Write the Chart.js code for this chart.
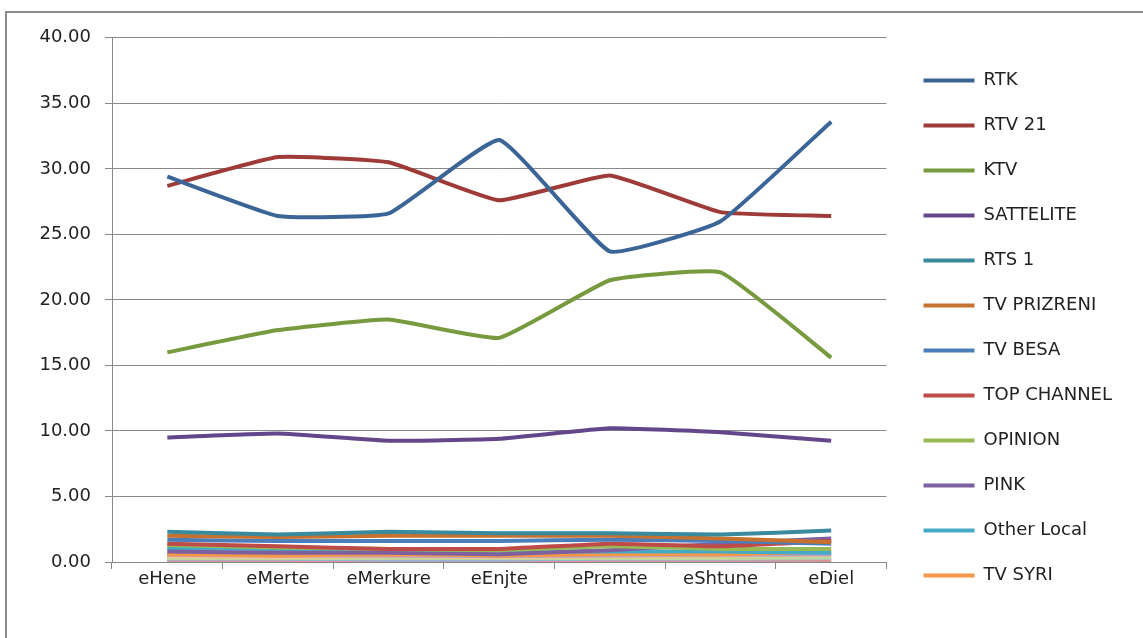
<!DOCTYPE html>
<html>
<head>
<meta charset="utf-8">
<script src="https://cdn.jsdelivr.net/npm/chart.js"></script>
<style>
  html, body { margin: 0; padding: 0; background: #fff; }
  #frame { position: absolute; left: 5px; top: 11px; width: 1140px; height: 630px; border: 2px solid #8c8c8c; border-right: none; border-bottom: none; background: #fff; }
  #wrap { position: absolute; left: 0; top: 0; width: 1136px; height: 627px; }
</style>
</head>
<body>
<div id="frame"><div id="wrap"><canvas id="tvChart"></canvas></div></div>
<script>
// Days of the week (Albanian) and daily audience share per channel
const days = ['eHene', 'eMerte', 'eMerkure', 'eEnjte', 'ePremte', 'eShtune', 'eDiel'];
const yTicks = [0, 5, 10, 15, 20, 25, 30, 35, 40];

const rtk        = [29.4, 26.4, 26.6, 32.2, 23.7, 26.0, 33.6];
const rtv21      = [28.7, 30.9, 30.5, 27.6, 29.5, 26.7, 26.4];
const ktv        = [16.0, 17.7, 18.5, 17.1, 21.5, 22.1, 15.6];
const sattelite  = [9.5, 9.8, 9.25, 9.4, 10.2, 9.9, 9.25];
const rts1       = [2.3, 2.1, 2.3, 2.2, 2.2, 2.1, 2.4];
const tvPrizreni = [2.0, 1.9, 2.0, 2.0, 2.0, 1.8, 1.5];
const tvBesa     = [1.7, 1.6, 1.6, 1.6, 1.7, 1.6, 1.4];
const topChannel = [1.4, 1.2, 1.0, 1.0, 1.4, 1.2, 1.6];
const opinion    = [1.3, 1.1, 1.0, 0.9, 1.2, 1.0, 1.0];
const pink       = [0.8, 0.7, 0.7, 0.6, 0.9, 1.4, 1.8];
const otherLocal = [1.0, 1.0, 0.9, 0.8, 0.8, 0.8, 0.7];
const tvSyri     = [0.6, 0.5, 0.6, 0.5, 0.6, 0.6, 0.8];
// series below are not shown in the (cut-off) legend
const series13   = [0.55, 0.5, 0.5, 0.45, 0.5, 0.55, 0.6];
const series14   = [0.45, 0.4, 0.45, 0.4, 0.45, 0.5, 0.55];
const series15   = [0.3, 0.3, 0.3, 0.3, 0.3, 0.3, 0.35];
const series16   = [0.25, 0.25, 0.2, 0.2, 0.25, 0.25, 0.3];
const series17   = [0.1, 0.1, 0.1, 0.1, 0.1, 0.1, 0.1];
const series18   = [0.05, 0.05, 0.05, 0.05, 0.05, 0.05, 0.05];

const LEGEND_COUNT = 12;

function line(label, data, color){
    return { label: label, data: data, borderColor: color, backgroundColor: color,
             borderWidth: 4, pointRadius: 0, tension: 0.12, fill: false };
}

const datasets = [
    line('RTK', rtk, '#3c6597'),
    line('RTV 21', rtv21, '#9e3a38'),
    line('KTV', ktv, '#779a3e'),
    line('SATTELITE', sattelite, '#63478a'),
    line('RTS 1', rts1, '#3a8a9e'),
    line('TV PRIZRENI', tvPrizreni, '#c8702e'),
    line('TV BESA', tvBesa, '#4a7ebb'),
    line('TOP CHANNEL', topChannel, '#be4b48'),
    line('OPINION', opinion, '#98b954'),
    line('PINK', pink, '#7d60a0'),
    line('Other Local', otherLocal, '#46aac5'),
    line('TV SYRI', tvSyri, '#f79646'),
    line('Series 13', series13, '#b3a2c7'),
    line('Series 14', series14, '#fac090'),
    line('Series 15', series15, '#c3d69b'),
    line('Series 16', series16, '#95b3d7'),
    line('Series 17', series17, '#d99694'),
    line('Series 18', series18, '#93cddd')
];
// draw first series on top, like the original
datasets.forEach((d, i) => { d.order = i; });

const font = { family: '"DejaVu Sans", sans-serif', size: 18 };

new Chart(document.getElementById('tvChart'), {
    type: 'line',
    data: { labels: days, datasets: datasets },
    options: {
        responsive: true,
        maintainAspectRatio: false,
        animation: false,
        layout: { padding: { top: 17, left: 0, right: 21, bottom: 14 } },
        plugins: {
            tooltip: { enabled: false },
            legend: {
                position: 'right',
                maxWidth: 300,
                labels: {
                    font: font,
                    color: '#222',
                    boxWidth: 51,
                    boxHeight: 4,
                    padding: 27,
                    generateLabels: (chart) => Chart.defaults.plugins.legend.labels.generateLabels(chart)
                        .filter(item => item.datasetIndex < LEGEND_COUNT)
                        .map(item => Object.assign(item, { lineWidth: 0 }))
                }
            }
        },
        scales: {
            x: {
                offset: true,
                afterFit: (axis) => { axis.height = 64; },
                grid: { offset: true, drawOnChartArea: false, drawTicks: true, tickLength: 7, color: '#888' },
                border: { color: '#888', width: 1 },
                ticks: { font: font, color: '#222', padding: 0, maxRotation: 0 }
            },
            y: {
                min: 0, max: 40,
                afterBuildTicks: (axis) => { axis.ticks = yTicks.map(v => ({ value: v })); },
                afterFit: (axis) => { axis.width = 105; },
                grid: { color: '#888', tickLength: 7 },
                border: { color: '#888', width: 1 },
                ticks: { font: font, color: '#222', padding: 14, callback: v => Number(v).toFixed(2) }
            },
            gap: {
                type: 'linear',
                position: 'right',
                afterFit: (axis) => { axis.width = 10; },
                grid: { display: false },
                border: { display: false },
                ticks: { display: false }
            }
        }
    }
});
</script>
</body>
</html>
